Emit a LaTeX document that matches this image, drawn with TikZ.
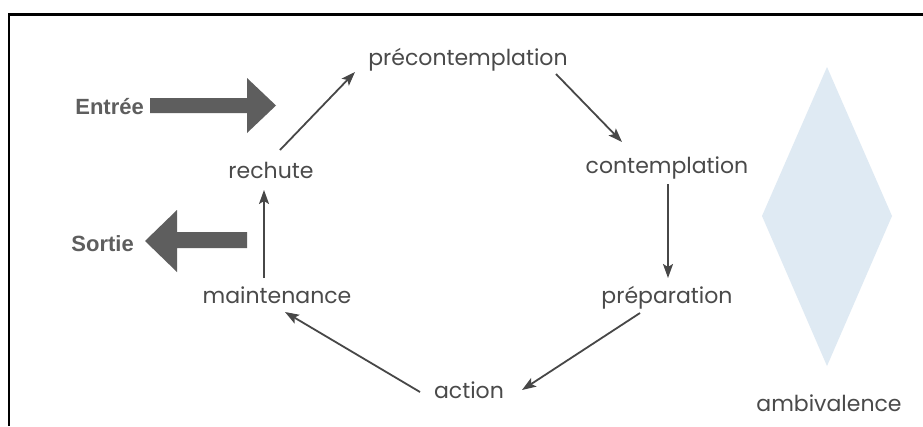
\documentclass[tikz,border=0pt]{standalone}
\usepackage{fontspec}
\setmainfont{Poppins}
\newfontfamily\labelbold{Liberation Sans}
\usetikzlibrary{arrows.meta}
\definecolor{inkgray}{HTML}{4A4A4A}
\definecolor{arrowgray}{HTML}{474747}
\definecolor{blockgray}{HTML}{5E5E5E}
\definecolor{haze}{HTML}{DFEAF3}
\tikzset{
  stage/.style={inner sep=0pt, anchor=base, text=inkgray,
    font=\fontsize{22}{26}\selectfont},
  flowlabel/.style={inner sep=0pt, anchor=base east, text=blockgray,
    font=\labelbold\bfseries\fontsize{22}{26}\selectfont},
  link/.style={draw=arrowgray, line width=1.8pt,
    -{Stealth[length=14pt, width=10pt, inset=3pt]}},
  blockarrow/.style={fill=blockgray, draw=none},
}
\begin{document}
\begin{tikzpicture}[x=1pt, y=-1pt]
\useasboundingbox (0,0) rectangle (923,426);
\fill[white] (0,0) rectangle (923,426);
% frame: top and left rules only
\draw[black, line width=2.5pt] (9,426) -- (9,14.5) -- (923,14.5);

% ambivalence diamond
\fill[haze] (827,67) -- (892,216) -- (827,366) -- (762,216) -- cycle;
\node[stage] (amb) at (829,411) {ambivalence};

% stages of the cycle
\node[stage] (precont) at (468,65) {précontemplation};
\node[stage] (cont)    at (667,173) {contemplation};
\node[stage] (prep)    at (667,303) {préparation};
\node[stage] (act)     at (469,398) {action};
\node[stage] (maint)   at (277,303) {maintenance};
\node[stage] (rech)    at (271,178) {rechute};

% entry and exit
\node[flowlabel] (entree) at (144,114) {Entrée};
\node[flowlabel] (sortie) at (134,251) {Sortie};
\fill[blockarrow] (150,98) -- (247,98) -- (247,78) -- (276,105.5)
  -- (247,133) -- (247,113) -- (150,113) -- cycle;
\fill[blockarrow] (247,232) -- (177,232) -- (177,210) -- (145,241)
  -- (177,272) -- (177,248) -- (247,248) -- cycle;

% cycle connectors
\draw[link] ([shift={(9,-28)}]rech.base) -- ([shift={(-113,7)}]precont.base);
\draw[link] ([shift={(88,9)}]precont.base) -- ([shift={(-45,-31)}]cont.base);
\draw[link] ([shift={(1,11)}]cont.base) -- ([shift={(1,-25)}]prep.base);
\draw[link] ([shift={(-27,10)}]prep.base) -- ([shift={(53,-8)}]act.base);
\draw[link] ([shift={(-49,-6)}]act.base) -- ([shift={(8,9)}]maint.base);
\draw[link] ([shift={(-13,-25)}]maint.base) -- ([shift={(-7,12)}]rech.base);
\end{tikzpicture}
\end{document}
